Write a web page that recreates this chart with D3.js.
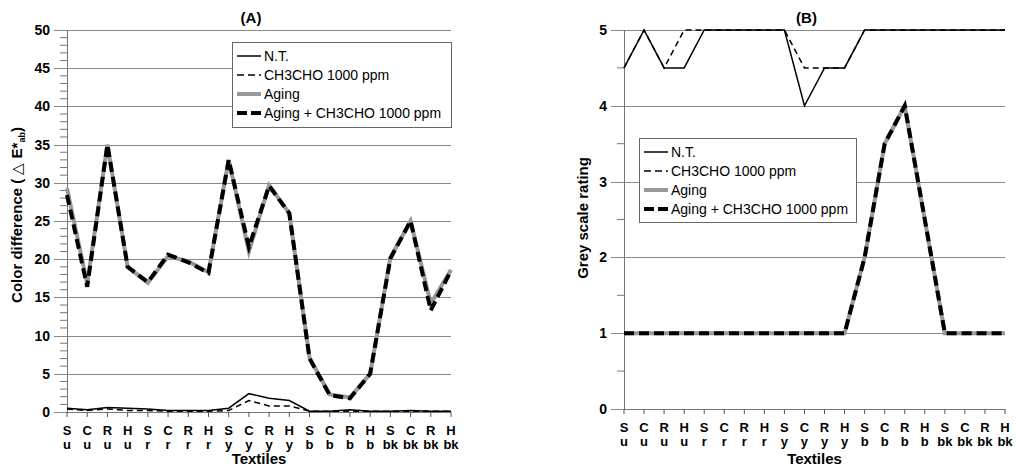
<!DOCTYPE html>
<html>
<head>
<meta charset="utf-8">
<script src="https://cdn.jsdelivr.net/npm/d3@7"></script>
<style>
  body { margin: 0; background: #fff; }
  text { font-family: "Liberation Sans", Arial, sans-serif; }
</style>
</head>
<body>
<script>
// textile categories: fibre letter + dye colour
var categories = ["S u","C u","R u","H u","S r","C r","R r","H r","S y","C y","R y","H y",
                  "S b","C b","R b","H b","S bk","C bk","R bk","H bk"];
var seriesNames = ["N.T.", "CH3CHO 1000 ppm", "Aging", "Aging + CH3CHO 1000 ppm"];

// (A) colour difference
var dE_NT       = [0.5,0.3,0.6,0.5,0.4,0.2,0.2,0.2,0.5,2.4,1.8,1.5,0.1,0.1,0.3,0.1,0.1,0.2,0.1,0.1];
var dE_CH3CHO   = [0.4,0.2,0.4,0.2,0.2,0.1,0.1,0.1,0.2,1.5,0.8,0.8,0.1,0.1,0.1,0.1,0.1,0.1,0.1,0.1];
var dE_Aging    = [29.3,16.8,35,19,16.9,20.4,19.7,18.3,33,21,29.7,26,7.1,2.3,1.9,5,20.2,25,14.2,18.6];
var dE_AgingCH3 = [28.4,16.4,35,19,17,20.6,19.6,18.2,33,21.6,29.6,26,7,2.2,1.8,5,20.1,25,13.3,18.5];
var ticksA = [0,5,10,15,20,25,30,35,40,45,50];

// (B) grey scale rating
var gs_NT       = [4.5,5,4.5,4.5,5,5,5,5,5,4,4.5,4.5,5,5,5,5,5,5,5,5];
var gs_CH3CHO   = [4.5,5,4.5,5,5,5,5,5,5,4.5,4.5,4.5,5,5,5,5,5,5,5,5];
var gs_Aging    = [1,1,1,1,1,1,1,1,1,1,1,1,2,3.5,4,2.5,1,1,1,1];
var gs_AgingCH3 = [1,1,1,1,1,1,1,1,1,1,1,1,2,3.5,4,2.5,1,1,1,1];
var ticksB = [0,1,2,3,4,5];

var styles = [
  {color: "#000", width: 1.5, dash: null, legDash: null},
  {color: "#000", width: 1.5, dash: "6,4", legDash: "7,4"},
  {color: "#999", width: 4, dash: null, legDash: null},
  {color: "#000", width: 4, dash: "10,5", legDash: "10,4"}
];

var svg = d3.select("body").append("svg")
            .attr("width", 1016)
            .attr("height", 466);

function drawPanel(opt) {
  var x = d3.scalePoint().domain(d3.range(categories.length)).range([opt.x0, opt.x1]);
  var y = d3.scaleLinear().domain([0, opt.max]).range([opt.yb, opt.yt]);
  var g = svg.append("g");

  // minor ticks
  var minors = d3.range(0, opt.max + 0.001, opt.minor).filter(function(v) { return opt.ticks.indexOf(v) < 0; });
  g.selectAll(".minor").data(minors).enter().append("line")
   .attr("x1", opt.x0 - 7).attr("x2", opt.x0)
   .attr("y1", function(d) { return y(d); }).attr("y2", function(d) { return y(d); })
   .attr("stroke", "#777").attr("stroke-width", 1);

  // gridlines + major ticks
  g.selectAll(".grid").data(opt.ticks).enter().append("line")
   .attr("x1", opt.x0 - 13).attr("x2", opt.x1)
   .attr("y1", function(d) { return Math.round(y(d)) + 0.5; })
   .attr("y2", function(d) { return Math.round(y(d)) + 0.5; })
   .attr("stroke", "#888").attr("stroke-width", 1);

  g.selectAll(".ylab").data(opt.ticks).enter().append("text")
   .attr("x", opt.x0 - 17).attr("y", function(d) { return y(d) + 5; })
   .attr("text-anchor", "end").attr("font-size", 14).attr("font-weight", "bold")
   .text(function(d) { return d; });

  // axes
  g.append("line").attr("x1", opt.x0 + 0.5).attr("x2", opt.x0 + 0.5)
   .attr("y1", opt.yt).attr("y2", opt.yb).attr("stroke", "#777");
  g.append("line").attr("x1", opt.x0).attr("x2", opt.x1)
   .attr("y1", Math.round(opt.yb) + 0.5).attr("y2", Math.round(opt.yb) + 0.5).attr("stroke", "#777");
  g.selectAll(".xt").data(categories).enter().append("line")
   .attr("x1", function(d, i) { return x(i); }).attr("x2", function(d, i) { return x(i); })
   .attr("y1", opt.yb).attr("y2", opt.yb + 5).attr("stroke", "#555");

  var xl = g.selectAll(".xl").data(categories).enter().append("text")
   .attr("text-anchor", "middle").attr("font-size", 13).attr("font-weight", "bold");
  xl.append("tspan").attr("x", function(d, i) { return x(i); }).attr("y", opt.yb + 23)
    .text(function(d) { return d.split(" ")[0]; });
  xl.append("tspan").attr("x", function(d, i) { return x(i); }).attr("y", opt.yb + 37)
    .text(function(d) { return d.split(" ")[1]; });

  g.append("text").attr("x", (opt.x0 + opt.x1) / 2).attr("y", 464)
   .attr("text-anchor", "middle").attr("font-size", 15).attr("font-weight", "bold").text("Textiles");

  g.append("text").attr("x", (opt.x0 + opt.x1) / 2 - 8).attr("y", 23)
   .attr("text-anchor", "middle").attr("font-size", 15).attr("font-weight", "bold").text(opt.title);

  // y axis title
  var yt = g.append("text")
   .attr("transform", "translate(" + opt.ylx + "," + opt.yly + ") rotate(-90)")
   .attr("text-anchor", "middle").attr("font-size", 15).attr("font-weight", "bold");
  opt.ylabel(yt);

  // series
  var line = d3.line().x(function(d, i) { return x(i); }).y(function(d) { return y(d); });
  opt.series.forEach(function(s, k) {
    var st = styles[k];
    g.append("path").attr("d", line(s)).attr("fill", "none")
     .attr("stroke", st.color).attr("stroke-width", st.width)
     .attr("stroke-dasharray", st.dash).attr("stroke-linejoin", "miter");
  });

  // legend
  var lg = g.append("g");
  lg.append("rect").attr("x", opt.lx + 0.5).attr("y", opt.ly + 0.5)
    .attr("width", opt.lw).attr("height", opt.lh)
    .attr("fill", "#fff").attr("stroke", "#666");
  seriesNames.forEach(function(n, k) {
    var st = styles[k];
    var yy = opt.ly + 14 + k * 19;
    lg.append("line").attr("x1", opt.lx + 5).attr("x2", opt.lx + 29)
      .attr("y1", yy).attr("y2", yy)
      .attr("stroke", st.color).attr("stroke-width", st.width)
      .attr("stroke-dasharray", st.legDash);
    lg.append("text").attr("x", opt.lx + 32).attr("y", yy + 5)
      .attr("font-size", 14).text(n);
  });
}

drawPanel({
  x0: 67, x1: 451, yt: 30, yb: 412, max: 50, ticks: ticksA, minor: 1,
  title: "(A)", ylx: 22, yly: 215,
  ylabel: function(t) {
    t.append("tspan").text("Color difference ( ");
    t.append("tspan").attr("font-weight", "normal").text("\u25B3");
    t.append("tspan").text(" E*");
    t.append("tspan").attr("font-size", 9).attr("dy", 3).text("ab");
    t.append("tspan").attr("dy", -3).text(")");
  },
  series: [dE_NT, dE_CH3CHO, dE_Aging, dE_AgingCH3],
  lx: 232, ly: 42, lw: 219, lh: 85
});

drawPanel({
  x0: 624, x1: 1005, yt: 30, yb: 409, max: 5, ticks: ticksB, minor: 0.5,
  title: "(B)", ylx: 588, yly: 218,
  ylabel: function(t) { t.text("Grey scale rating"); },
  series: [gs_NT, gs_CH3CHO, gs_Aging, gs_AgingCH3],
  lx: 639, ly: 138, lw: 217, lh: 84
});
</script>
</body>
</html>
